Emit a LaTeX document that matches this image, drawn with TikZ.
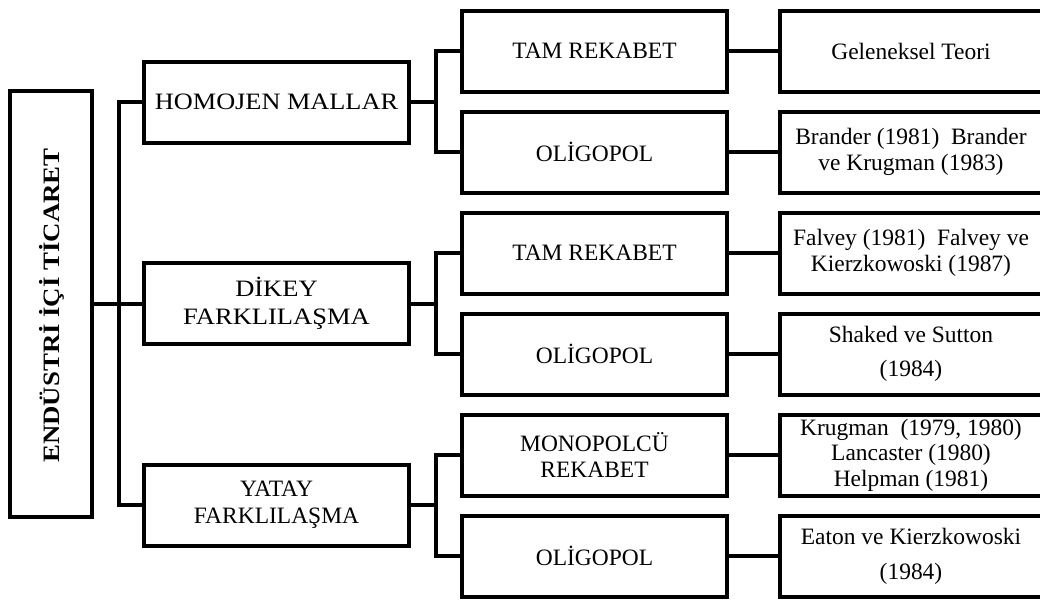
\documentclass[tikz,border=0pt]{standalone}
\usepackage{fontspec}
\setmainfont{Liberation Serif}
\usepackage{graphicx}
\begin{document}
\begin{tikzpicture}[x=0.75pt,y=-0.75pt,
  txt/.style={font=\fontsize{17.6}{19.2}\selectfont, align=center},
  box/.style={draw, line width=3pt, inner sep=0pt, minimum width=198.75pt, minimum height=60.75pt, txt},
  rbox/.style={box, minimum width=196.5pt},
  conn/.style={line width=3pt}]
\useasboundingbox (0,0) rectangle (1040,601);
\clip (0,0) rectangle (1040,601);
% main box
\node[draw, line width=3pt, inner sep=0pt, minimum width=61.5pt, minimum height=319.5pt] (main) at (51,304) {};
\node[rotate=90, font=\bfseries\fontsize{17.6}{19.2}\selectfont] (maintxt) at (52,305.5) {\resizebox{236pt}{\height}{ENDÜSTRİ İÇİ TİCARET}};
% level 1
\node[box] (hom) at (276.5,102) {\scalebox{1.12}[1]{HOMOJEN MALLAR}};
\node[box, font=\fontsize{17.6}{21}\selectfont] (dik) at (276.5,303.5) {\scalebox{1.13}[1]{DİKEY}\\\scalebox{1.13}[1]{FARKLILAŞMA}};
\node[box, font=\fontsize{17.6}{20.5}\selectfont] (yat) at (276.5,505) {YATAY\\FARKLILAŞMA};
% level 2
\node[box] (t1) at (594.5,51) {TAM REKABET};
\node[box] (o1) at (594.5,152) {OLİGOPOL};
\node[box] (t2) at (594.5,253) {TAM REKABET};
\node[box] (o2) at (594.5,354) {OLİGOPOL};
\node[box] (m3) at (594.5,455) {MONOPOLCÜ\\REKABET};
\node[box] (o3) at (594.5,556) {OLİGOPOL};
% level 3
\node[rbox] (r1) at (911,51) {Geleneksel Teori};
\node[rbox] (r2) at (911,152) {Brander (1981)\ \ Brander\\ve Krugman (1983)};
\node[rbox] (r3) at (911,253) {Falvey (1981)\ \ Falvey ve\\Kierzkowoski (1987)};
\node[rbox] (r4) at (911,354) {Shaked ve Sutton\\[6pt](1984)};
\node[rbox] (r5) at (911,455) {Krugman\ \ (1979, 1980)\\Lancaster (1980)\\Helpman (1981)};
\node[rbox] (r6) at (911,556) {Eaton ve Kierzkowoski\\[7pt](1984)};
% trunk
\coordinate (tr) at (119,304);
\coordinate (b) at (436,304);
\draw[conn] (main.east) -- (main.east -| tr);
\draw[conn] (hom.west) -- (hom.west -| tr) -- (yat.west -| tr) -- (yat.west);
\draw[conn] (dik.west) -- (dik.west -| tr);
% branches
\draw[conn] (hom.east) -- (hom.east -| b);
\draw[conn] (t1.west) -- (t1.west -| b) -- (o1.west -| b) -- (o1.west);
\draw[conn] (dik.east) -- (dik.east -| b);
\draw[conn] (t2.west) -- (t2.west -| b) -- (o2.west -| b) -- (o2.west);
\draw[conn] (yat.east) -- (yat.east -| b);
\draw[conn] (m3.west) -- (m3.west -| b) -- (o3.west -| b) -- (o3.west);
% to references
\draw[conn] (t1.east) -- (r1.west);
\draw[conn] (o1.east) -- (r2.west);
\draw[conn] (t2.east) -- (r3.west);
\draw[conn] (o2.east) -- (r4.west);
\draw[conn] (m3.east) -- (r5.west);
\draw[conn] (o3.east) -- (r6.west);
\end{tikzpicture}
\end{document}
